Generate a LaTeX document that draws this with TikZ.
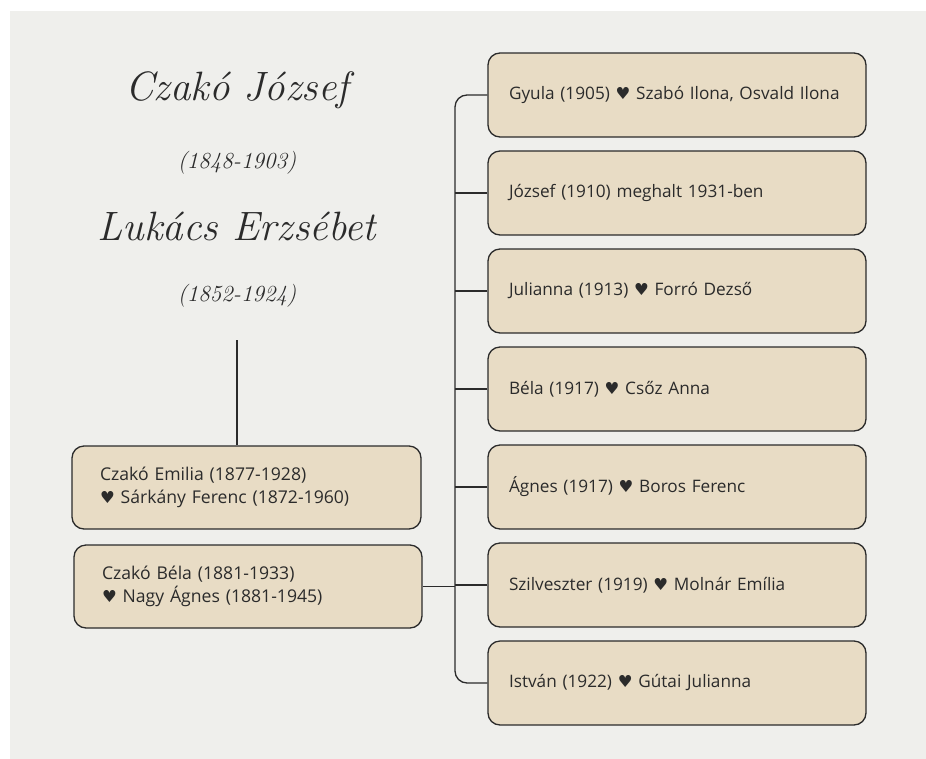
\documentclass[tikz,border=0pt]{standalone}
\usepackage{fontspec}
\usepackage{tikz}
\usetikzlibrary{calc}
\newfontfamily\boxfont{Open Sans}
\newfontfamily\symfont{DejaVu Sans}
\newcommand{\hrt}{{\symfont\fontsize{16.5}{16.5}\selectfont ♥}}
\definecolor{paper}{HTML}{EFEFEC}
\definecolor{ink}{HTML}{2B2B2B}
\definecolor{sand}{HTML}{E8DCC5}
\tikzset{
  person/.style={draw=ink, fill=sand, line width=1.3pt, rounded corners=12pt,
    text=ink, font=\boxfont\fontsize{17.2}{23}\selectfont, align=left},
  child/.style={person, minimum width=378pt, minimum height=84pt,
    text width=336pt, inner xsep=21pt},
  sibling/.style={person, minimum height=83pt, inner xsep=28pt},
  link/.style={draw=ink, line width=1.3pt},
  title/.style={text=ink, font=\itshape\fontsize{41}{41}\selectfont},
  dates/.style={text=ink, font=\itshape\fontsize{23}{23}\selectfont},
}
\begin{document}
\begin{tikzpicture}[x=1pt, y=-1pt]
\useasboundingbox (0,0) rectangle (926,758);
\fill[white] (0,0) rectangle (926,758);
\fill[paper] (10,11) rectangle (940,770);
% parents
\node[title] (father) at (237,90) {Czakó József};
\node[dates] (fdates) at (237,163) {(1848-1903)};
\node[title] (mother) at (237,226) {Lukács Erzsébet};
\node[dates] (mdates) at (237,296) {(1852-1924)};
\coordinate (par) at (237,340);
% left column
\node[sibling, minimum width=349pt, text width=293pt,
  font=\boxfont\fontsize{17.6}{23}\selectfont] (emilia) at (246.5,487.5)
  {Czakó Emilia (1877-1928)\\\hrt\ Sárkány Ferenc (1872-1960)};
\node[sibling, minimum width=348pt, text width=292pt,
  font=\boxfont\fontsize{17.6}{23}\selectfont] (bela) at (248,586.5)
  {Czakó Béla (1881-1933)\\\hrt\ Nagy Ágnes (1881-1945)};
% right column
\node[child] (gyula) at (677,95) {Gyula (1905) \hrt\ Szabó Ilona, Osvald Ilona};
\node[child] (jozsef) at (677,193) {József (1910) meghalt 1931-ben};
\node[child] (julianna) at (677,291) {Julianna (1913) \hrt\ Forró Dezső};
\node[child] (belajr) at (677,389) {Béla (1917) \hrt\ Csőz Anna};
\node[child] (agnes) at (677,487) {Ágnes (1917) \hrt\ Boros Ferenc};
\node[child] (szilveszter) at (677,585) {Szilveszter (1919) \hrt\ Molnár Emília};
\node[child] (istvan) at (677,683) {István (1922) \hrt\ Gútai Julianna};
% connectors
\coordinate (trunk) at (455,683);
\draw[link] (par) -- (par |- emilia.north);
\draw[link, rounded corners=12pt] (gyula.west) -| (trunk) -- (istvan.west);
\foreach \n in {jozsef,julianna,belajr,agnes,szilveszter}
  \draw[link] (\n.west) -- (\n.west -| trunk);
\draw[link] (bela.east) -- (bela.east -| trunk);
\end{tikzpicture}
\end{document}
